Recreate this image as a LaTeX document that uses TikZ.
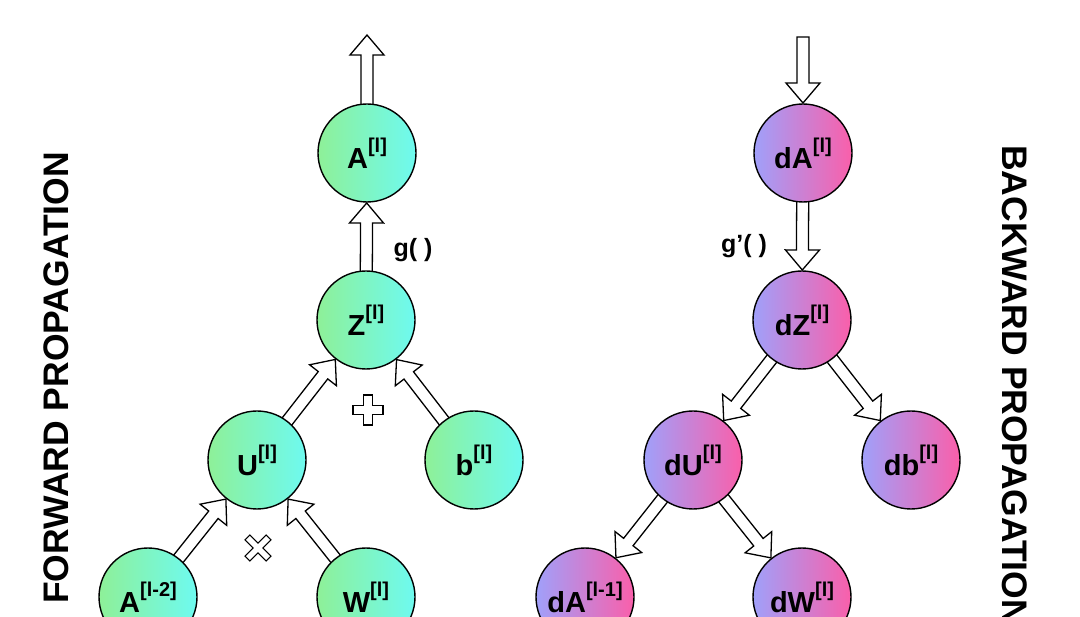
\documentclass[tikz,border=0pt]{standalone}
\usepackage{fontspec}
\setmainfont{Liberation Sans}
\usetikzlibrary{calc}
\pgfdeclarelayer{background}
\pgfsetlayers{background,main}
\definecolor{gL}{RGB}{142,240,152}
\definecolor{gR}{RGB}{110,250,240}
\definecolor{pL}{RGB}{160,160,250}
\definecolor{pR}{RGB}{250,95,170}
\newcommand\Sp[1]{\raisebox{0.55em}{\fontsize{20}{20}\selectfont #1}}
% block arrow: from #1 (start) to #2 (tip)
\newcommand\barrow[2]{%
  \draw[blockarrow]
    ($(#1)!6pt!90:(#2)$) -- ($($(#2)!20pt!(#1)$)!6pt!-90:(#1)$)
    -- ($($(#2)!20pt!(#1)$)!17pt!-90:(#1)$) -- (#2)
    -- ($($(#2)!20pt!(#1)$)!17pt!90:(#1)$)
    -- ($($(#2)!20pt!(#1)$)!6pt!90:(#1)$)
    -- ($(#1)!6pt!-90:(#2)$) -- cycle;}
\begin{document}
\begin{tikzpicture}[x=1pt,y=-1pt,
  nd/.style={circle, draw=black, line width=1.4pt, minimum size=98pt, inner sep=0pt,
    font=\fontsize{29}{29}\selectfont\bfseries},
  fw/.style={nd, left color=gL, right color=gR},
  bw/.style={nd, left color=pL, right color=pR},
  blockarrow/.style={draw=black, fill=white, line width=1.3pt, line join=miter},
  lbl/.style={font=\fontsize{25}{25}\selectfont\bfseries, inner sep=0pt},
  title/.style={font=\fontsize{35.5}{35.5}\selectfont\bfseries, inner sep=0pt},
  opsym/.style={draw=black, fill=white, line width=1.1pt}]
\useasboundingbox (0,0) rectangle (1080,617);
% forward nodes
\node[fw] (A)  at (367,153) {A\Sp{[l]}};
\node[fw] (Z)  at (366,320) {Z\Sp{[l]}};
\node[fw] (U)  at (257,460) {U\Sp{[l]}};
\node[fw] (b)  at (474,460) {b\Sp{[l]}};
\node[fw] (A2) at (148,597) {A\Sp{[l-2]}};
\node[fw] (W)  at (366,597) {W\Sp{[l]}};
% backward nodes
\node[bw] (dA)  at (803,153) {dA\Sp{[l]}};
\node[bw] (dZ)  at (802,320) {dZ\Sp{[l]}};
\node[bw] (dU)  at (693,460) {dU\Sp{[l]}};
\node[bw] (db)  at (911,460) {db\Sp{[l]}};
\node[bw] (dA1) at (585,597) {dA\Sp{[l-1]}};
\node[bw] (dW)  at (802,597) {dW\Sp{[l]}};
% free ends and tips
\coordinate (topF) at (367,35);
\coordinate (topB) at (803,37);
\coordinate (tA)  at ($(A.center)!50pt!(Z.center)$);
\coordinate (tZu) at ($(Z.center)!50pt!(U.center)$);
\coordinate (tZb) at ($(Z.center)!50pt!(b.center)$);
\coordinate (tUa) at ($(U.center)!50pt!(A2.center)$);
\coordinate (tUw) at ($(U.center)!50pt!(W.center)$);
\coordinate (tdA) at ($(dA.center)!50pt!(topB)$);
\coordinate (tdZ) at ($(dZ.center)!50pt!(dA.center)$);
\coordinate (tdU) at ($(dU.center)!50pt!(dZ.center)$);
\coordinate (tdb) at ($(db.center)!50pt!(dZ.center)$);
\coordinate (tdA1) at ($(dA1.center)!50pt!(dU.center)$);
\coordinate (tdW) at ($(dW.center)!50pt!(dU.center)$);
\begin{pgfonlayer}{background}
\barrow{A.center}{topF}
\barrow{Z.center}{tA}
\barrow{U.center}{tZu}
\barrow{b.center}{tZb}
\barrow{A2.center}{tUa}
\barrow{W.center}{tUw}
\barrow{topB}{tdA}
\barrow{dA.center}{tdZ}
\barrow{dZ.center}{tdU}
\barrow{dZ.center}{tdb}
\barrow{dU.center}{tdA1}
\barrow{dU.center}{tdW}
\end{pgfonlayer}
% labels
\node[lbl] (g)  at (413,250) {g( )};
\node[lbl] (gp) at (744,246) {g'( )};
% operators
\draw[opsym, shift={(368,410)}] (-4.5,-15) -- (4.5,-15) -- (4.5,-4.5) -- (15,-4.5) -- (15,4.5) -- (4.5,4.5)
  -- (4.5,15) -- (-4.5,15) -- (-4.5,4.5) -- (-15,4.5) -- (-15,-4.5) -- (-4.5,-4.5) -- cycle;
\draw[opsym, shift={(258,548)}, rotate=45] (-3.5,-15) -- (3.5,-15) -- (3.5,-3.5) -- (15,-3.5) -- (15,3.5) -- (3.5,3.5)
  -- (3.5,15) -- (-3.5,15) -- (-3.5,3.5) -- (-15,3.5) -- (-15,-3.5) -- (-3.5,-3.5) -- cycle;
% titles
\node[title, rotate=90] (ft) at (56,378) {FORWARD PROPAGATION};
\node[title, rotate=-90, anchor=west] (bt) at (1015,145) {BACKWARD PROPAGATION};
\end{tikzpicture}
\end{document}
